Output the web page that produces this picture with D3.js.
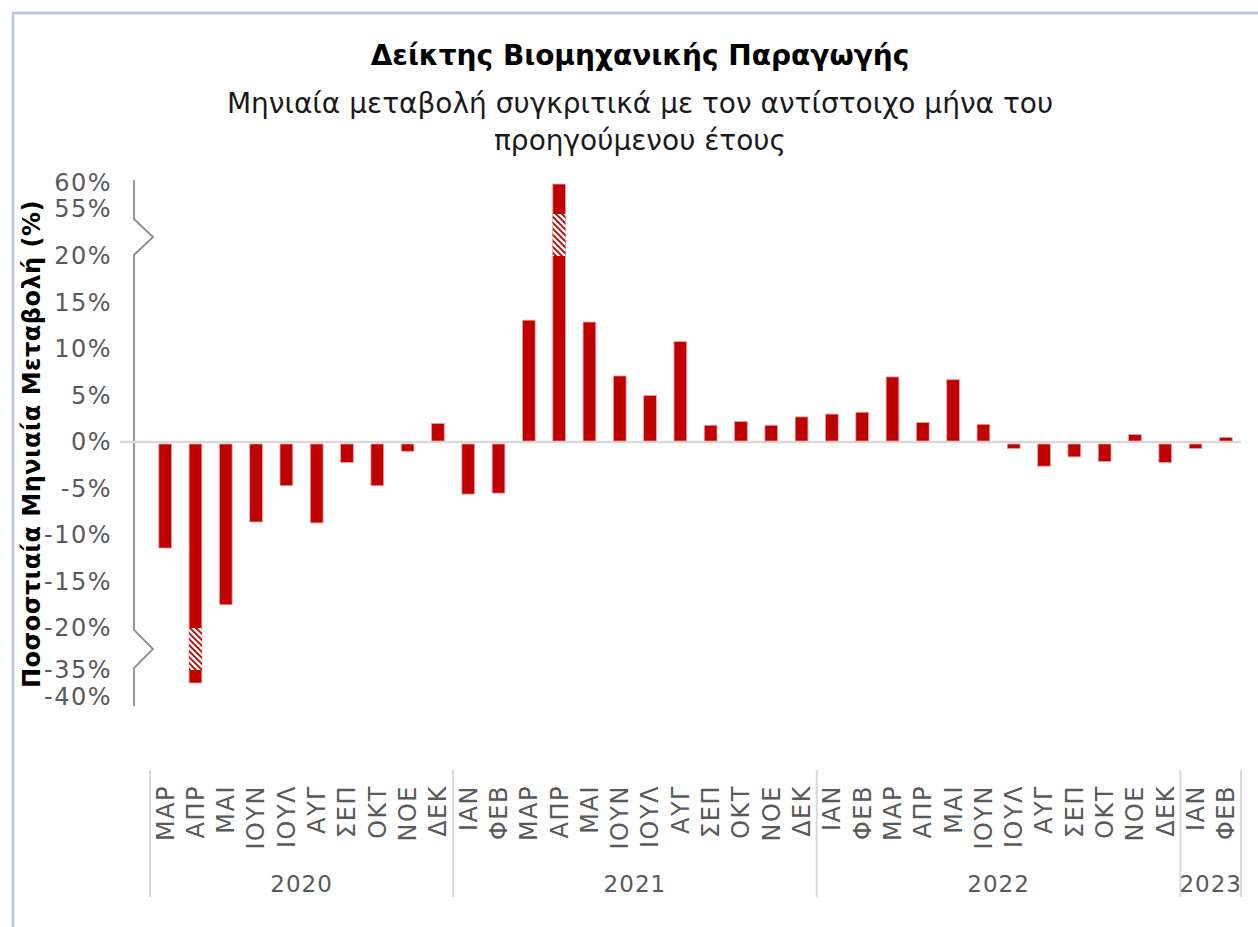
<!DOCTYPE html>
<html>
<head>
<meta charset="utf-8">
<script src="https://cdn.jsdelivr.net/npm/d3@7"></script>
<style>
  body { margin: 0; background: #fff; }
  svg { display: block; font-family: Verdana, "DejaVu Sans", sans-serif; }
</style>
</head>
<body>
<svg id="chart" width="1258" height="927"></svg>
<script>
// data
const months = ['ΜΑΡ', 'ΑΠΡ', 'ΜΑΙ', 'ΙΟΥΝ', 'ΙΟΥΛ', 'ΑΥΓ', 'ΣΕΠ', 'ΟΚΤ', 'ΝΟΕ', 'ΔΕΚ',
  'ΙΑΝ', 'ΦΕΒ', 'ΜΑΡ', 'ΑΠΡ', 'ΜΑΙ', 'ΙΟΥΝ', 'ΙΟΥΛ', 'ΑΥΓ', 'ΣΕΠ', 'ΟΚΤ', 'ΝΟΕ', 'ΔΕΚ',
  'ΙΑΝ', 'ΦΕΒ', 'ΜΑΡ', 'ΑΠΡ', 'ΜΑΙ', 'ΙΟΥΝ', 'ΙΟΥΛ', 'ΑΥΓ', 'ΣΕΠ', 'ΟΚΤ', 'ΝΟΕ', 'ΔΕΚ',
  'ΙΑΝ', 'ΦΕΒ'];
const values = [-11.4, -37.4, -17.5, -8.6, -4.7, -8.7, -2.2, -4.7, -1.0, 2.0,
  -5.6, -5.5, 13.1, 59.8, 12.9, 7.1, 5.0, 10.8, 1.8, 2.2, 1.8, 2.7,
  3.0, 3.2, 7.0, 2.1, 6.7, 1.9, -0.7, -2.6, -1.6, -2.1, 0.8, -2.2,
  -0.7, 0.5];
const yearLabels = ['2020', '2021', '2022', '2023'];
const yearCounts = [10, 12, 12, 2];
const yTicks = [60, 55, 20, 15, 10, 5, 0, -5, -10, -15, -20, -35, -40];
const breakHigh = [20, 55];
const breakLow = [-35, -20];

const svg = d3.select('#chart');
const red = '#c00000';
const axisX = 134;

// frame
svg.append('path').attr('d', 'M13,927 L13,13 L1258,13')
  .attr('fill', 'none').attr('stroke', '#b4c7e7').attr('stroke-width', 2.5);

// titles
svg.append('text').attr('x', 640).attr('y', 65).attr('text-anchor', 'middle')
  .attr('font-size', 28).attr('font-weight', 'bold').attr('fill', '#000')
  .text('Δείκτης Βιομηχανικής Παραγωγής');
const sub = svg.append('text').attr('text-anchor', 'middle').attr('font-size', 28).attr('fill', '#1a1a1a');
sub.append('tspan').attr('x', 640).attr('y', 113).text('Μηνιαία μεταβολή συγκριτικά με τον αντίστοιχο μήνα του');
sub.append('tspan').attr('x', 640).attr('y', 150).text('προηγούμενου έτους');

// scales (piecewise y for the broken axis)
const x = d3.scaleBand().domain(d3.range(months.length)).range([150, 1241])
  .paddingInner(0.58).paddingOuter(0.29);
const y = d3.scaleLinear()
  .domain([-40, breakLow[0], breakLow[1], breakHigh[0], breakHigh[1], 60])
  .range([697, 670, 628, 256, 209, 183]);

// hatch pattern for the cut part of the bars
const defs = svg.append('defs');
const pat = defs.append('pattern').attr('id', 'hatch').attr('patternUnits', 'userSpaceOnUse')
  .attr('width', 6).attr('height', 6);
pat.append('rect').attr('width', 6).attr('height', 6).attr('fill', '#fff');
pat.append('path').attr('d', 'M-1,-1 L7,7 M-4,2 L2,8 M4,-2 L8,2')
  .attr('stroke', red).attr('stroke-width', 1.8);

// y axis with break marks
const zig = (top, bot) => {
  const mid = (top + bot) / 2;
  return `L${axisX},${top} L${axisX + 19},${mid} L${axisX},${bot}`;
};
const axisPath = `M${axisX},180 ` + zig(219, 255) + ' ' + zig(630, 668) + ` L${axisX},706`;
svg.append('path').attr('d', axisPath).attr('fill', 'none')
  .attr('stroke', '#8c8c8c').attr('stroke-width', 1.8);

svg.append('g').selectAll('text').data(yTicks).join('text')
  .attr('x', 112).attr('y', d => y(d)).attr('dy', '0.35em')
  .attr('text-anchor', 'end').attr('font-size', 24).attr('fill', '#595959')
  .attr('letter-spacing', 1.5)
  .text(d => d + '%');

svg.append('text')
  .attr('transform', 'translate(32,444) rotate(-90)')
  .attr('text-anchor', 'middle').attr('dy', '0.35em')
  .attr('font-size', 24).attr('font-weight', 'bold').attr('fill', '#000')
  .attr('letter-spacing', 0.5)
  .text('Ποσοστιαία Μηνιαία Μεταβολή (%)');

// zero line
svg.append('line').attr('x1', 120).attr('x2', 1241).attr('y1', y(0)).attr('y2', y(0))
  .attr('stroke', '#d9d9d9').attr('stroke-width', 2.5);

// bars
const bars = svg.append('g');
bars.selectAll('rect').data(values).join('rect')
  .attr('x', (d, i) => x(i))
  .attr('width', x.bandwidth())
  .attr('y', d => d >= 0 ? y(d) : y(0) + 2)
  .attr('height', d => d >= 0 ? y(0) - 1 - y(d) : y(d) - y(0) - 2)
  .attr('fill', red)
  .attr('stroke', '#f0a0a0').attr('stroke-width', 0.8);

// hatched section where a bar crosses the break
bars.selectAll('rect.cut').data(values.map((v, i) => ({ v, i }))
  .filter(d => d.v > breakHigh[1] || d.v < breakLow[0]))
  .join('rect').attr('class', 'cut')
  .attr('x', d => x(d.i))
  .attr('width', x.bandwidth())
  .attr('y', d => d.v > 0 ? y(breakHigh[1]) + 5 : y(breakLow[1]))
  .attr('height', d => d.v > 0 ? y(breakHigh[0]) - y(breakHigh[1]) - 5 : y(breakLow[0]) - y(breakLow[1]))
  .attr('fill', 'url(#hatch)');

// month labels
svg.append('g').selectAll('text').data(months).join('text')
  .attr('transform', (d, i) => `translate(${x(i) + x.bandwidth() / 2},785) rotate(-90)`)
  .attr('text-anchor', 'end').attr('dy', '0.35em')
  .attr('font-size', 24).attr('fill', '#595959')
  .attr('letter-spacing', 1.5)
  .text(d => d);

// year groups
const gap = (x.step() - x.bandwidth()) / 2;
let start = 0;
const bounds = [x(0) - gap];
const centers = [];
yearCounts.forEach(n => {
  const a = x(start) - gap;
  const b = x(start + n - 1) + x.bandwidth() + gap;
  bounds.push(b);
  centers.push((a + b) / 2);
  start += n;
});
svg.append('g').selectAll('line').data(bounds).join('line')
  .attr('x1', d => d).attr('x2', d => d).attr('y1', 770).attr('y2', 897)
  .attr('stroke', '#d9d9d9').attr('stroke-width', 2);
svg.append('g').selectAll('text').data(yearLabels).join('text')
  .attr('x', (d, i) => centers[i]).attr('y', 884).attr('dy', '0.35em')
  .attr('text-anchor', 'middle').attr('font-size', 23).attr('fill', '#595959')
  .attr('letter-spacing', 1)
  .text(d => d);
</script>
</body>
</html>
